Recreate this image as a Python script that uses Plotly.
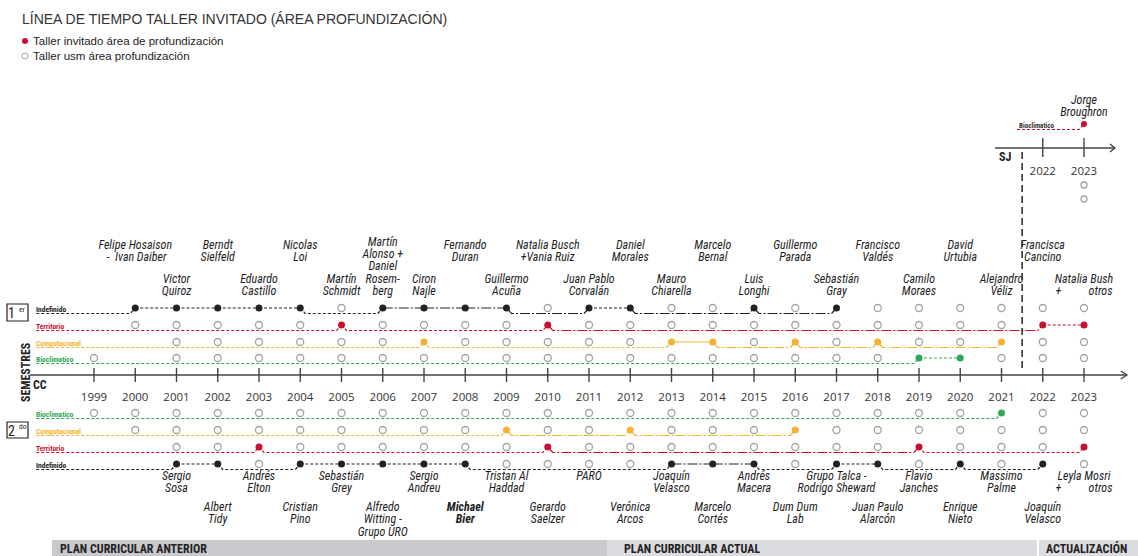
import plotly.graph_objects as go

# ---------------- DATA ----------------
YEARS = [1999, 2000, 2001, 2002, 2003, 2004, 2005, 2006, 2007, 2008, 2009, 2010,
         2011, 2012, 2013, 2014, 2015, 2016, 2017, 2018, 2019, 2020, 2021, 2022, 2023]
YEAR_LABELS = [str(y) for y in YEARS]

# 1st semester: filled dots (invited workshop) per area
UP_INDEF = [2000, 2001, 2002, 2003, 2004, 2006, 2007, 2008, 2009, 2011, 2012, 2015, 2017]
UP_TERR = [2005, 2010, 2022, 2023]
UP_COMP = [2007, 2013, 2014, 2016, 2018, 2021]
UP_BIO = [2019, 2020]
# 2nd semester
LO_BIO = [2021]
LO_COMP = [2009, 2012, 2016]
LO_TERR = [2003, 2010, 2019, 2023]
LO_INDEF = [2001, 2002, 2004, 2005, 2006, 2007, 2008, 2013, 2014, 2015, 2017, 2018, 2020, 2022]

# years where a workshop slot (circle) exists
UP_INDEF_SLOTS = YEARS[1:]
UP_TERR_SLOTS = YEARS[1:]
UP_COMP_SLOTS = YEARS[2:]
UP_BIO_SLOTS = [1999] + YEARS[2:]
LO_BIO_SLOTS = YEARS[:]
LO_COMP_SLOTS = YEARS[1:]
LO_TERR_SLOTS = YEARS[2:]
LO_INDEF_SLOTS = YEARS[2:]

UP_NAME_YEARS = YEARS[1:]
UP_NAMES = ["Felipe Hosaison<br> -  Ivan Daiber", "Victor<br>Quiroz", "Berndt<br>Sielfeld",
            "Eduardo<br>Castillo", "Nicolas<br>Loi", "Martín<br>Schmidt",
            "Martín<br>Alonso +<br>Daniel<br>Rosem-<br>berg", "Ciron<br>Najle",
            "Fernando<br>Duran", "Guillermo<br>Acuña", "Natalia Busch<br>+Vania Ruiz",
            "Juan Pablo<br>Corvalán", "Daniel<br>Morales", "Mauro<br>Chiarella",
            "Marcelo<br>Bernal", "Luis<br>Longhi", "Guillermo<br>Parada",
            "Sebastián<br>Gray", "Francisco<br>Valdés", "Camilo<br>Moraes",
            "David<br>Urtubia", "Alejandro<br>Véliz", "Francisca<br>Cancino",
            "Natalia Bush<br>+          otros"]

LO_NAME_YEARS = YEARS[2:]
LO_NAMES = ["Sergio<br>Sosa", "Albert<br>Tidy", "Andrés<br>Elton", "Cristian<br>Pino",
            "Sebastián<br>Grey", "Alfredo<br>Witting -<br>Grupo URO", "Sergio<br>Andreu",
            "<b>Michael</b><br><b>Bier</b>", "Tristan Al<br>Haddad", "Gerardo<br>Saelzer", "PARO",
            "Verónica<br>Arcos", "Joaquín<br>Velasco", "Marcelo<br>Cortés",
            "Andrés<br>Macera", "Dum Dum<br>Lab", "Grupo Talca -<br>Rodrigo Sheward",
            "Juan Paulo<br>Alarcón", "Flavio<br>Janches", "Enrique<br>Nieto",
            "Massimo<br>Palme", "Joaquín<br>Velasco", "Leyla Mosri<br>+          otros"]

SJ_YEARS = [2022, 2023]
SJ_EVENT = [2023]
SJ_SLOTS = [2023, 2023]
SJ_NAME = "Jorge<br>Broughron"

AREAS = ["Indefinido", "Territorio", "Computacional", "Bioclimatico"]
PLANS = ["PLAN CURRICULAR ANTERIOR", "PLAN CURRICULAR ACTUAL", "ACTUALIZACIÓN"]
SEMESTER_MARKS = [("1", "er"), ("2", "do")]

# ---------------- STYLE / LAYOUT ----------------
W, H = 1138, 556
PX = 41.25                      # pixels per year
X0 = YEARS[0] - 94 / PX         # left edge of the figure in years
X1 = X0 + W / PX
RAMP = 0.12
LH = 12.3                       # line height of the name labels
FONT = "Liberation Sans Narrow, Arial Narrow, Roboto Condensed, Liberation Sans, sans-serif"
WFONT = "Liberation Sans, Arial, sans-serif"
COL = {"Indefinido": "#222222", "Territorio": "#c8102e",
       "Computacional": "#f5b232", "Bioclimatico": "#2fa757"}
GRAY = "#a3a3a3"
DASH = {"d": "3px,2px", "dd": "10px,2px,2px,2px", "s": "solid"}

UP_Y = {"Indefinido": 308, "Territorio": 325, "Computacional": 342, "Bioclimatico": 358}
LO_Y = {"Bioclimatico": 413, "Computacional": 430, "Territorio": 447, "Indefinido": 464}
AXIS_Y = 375

ROWS = [
    ("Indefinido", UP_Y, UP_INDEF, UP_INDEF_SLOTS,
     ["d", "d", "d", "d", "d", "d", "dd", "dd", "dd", "dd", "d", "dd", "dd"]),
    ("Territorio", UP_Y, UP_TERR, UP_TERR_SLOTS, ["d", "d", "dd", "d"]),
    ("Computacional", UP_Y, UP_COMP, UP_COMP_SLOTS, ["d", "d", "s", "dd", "dd", "dd"]),
    ("Bioclimatico", UP_Y, UP_BIO, UP_BIO_SLOTS, ["d", "d"]),
    ("Bioclimatico", LO_Y, LO_BIO, LO_BIO_SLOTS, ["d"]),
    ("Computacional", LO_Y, LO_COMP, LO_COMP_SLOTS, ["d", "dd", "dd"]),
    ("Territorio", LO_Y, LO_TERR, LO_TERR_SLOTS, ["d", "d", "dd", "d"]),
    ("Indefinido", LO_Y, LO_INDEF, LO_INDEF_SLOTS,
     ["d"] * 8 + ["dd", "dd", "d", "d", "d", "d"]),
]


def px(x):
    return x / W


def row_segments(events, yc, x_start, styles):
    base = yc + 5.5
    segs, prev = [], None
    for e, st in zip(events, styles):
        if prev is None:
            xs, ys = [x_start, e - RAMP, e], [base, base, yc]
        elif e - prev == 1:
            xs, ys = [prev, e], [yc, yc]
        else:
            xs, ys = [prev, prev + RAMP, e - RAMP, e], [yc, base, base, yc]
        segs.append((xs, ys, st))
        prev = e
    return segs


def name_lines(years, names, ref_y, anchor):
    """Split multi-line names into single lines with a fixed line height."""
    xs, ys, ts = [], [], []
    for yr, nm in zip(years, names):
        parts = nm.split("<br>")
        n = len(parts)
        for i, p in enumerate(parts):
            y = ref_y + i * LH if anchor == "top" else ref_y - (n - 1 - i) * LH
            xs.append(yr)
            ys.append(y)
            ts.append(p)
    return xs, ys, ts


fig = go.Figure()
LINE_START = YEARS[0] - 1.4

# lines + markers for each row
for area, ymap, events, slots, styles in ROWS:
    yc = ymap[area]
    for xs, ys, st in row_segments(events, yc, LINE_START, styles):
        fig.add_trace(go.Scatter(x=xs, y=ys, mode="lines",
                                 line=dict(color=COL[area], width=1.2, dash=DASH[st]),
                                 hoverinfo="skip", showlegend=False))
    empty = [s for s in slots if s not in events]
    fig.add_trace(go.Scatter(x=empty, y=[yc] * len(empty), mode="markers",
                             marker=dict(symbol="circle-open", size=7, color=GRAY,
                                         line=dict(width=1.3, color=GRAY)),
                             hoverinfo="skip", showlegend=False))
    fig.add_trace(go.Scatter(x=events, y=[yc] * len(events), mode="markers",
                             marker=dict(symbol="circle", size=7, color=COL[area]),
                             hoverinfo="skip", showlegend=False))
    fig.add_annotation(x=LINE_START - 0.05, y=yc + 2, text="<b>%s</b>" % area, showarrow=False,
                       xanchor="left", yanchor="bottom", yshift=-6,
                       font=dict(size=7.5, color=COL[area], family=FONT))

# main time axis
tick_x, tick_y = [], []
for yr in YEARS:
    tick_x += [yr, yr, None]
    tick_y += [AXIS_Y - 7, AXIS_Y + 7, None]
ax_end = YEARS[-1] + 1.04
fig.add_trace(go.Scatter(x=[X0 + 30 / PX, ax_end], y=[AXIS_Y, AXIS_Y], mode="lines",
                         line=dict(color="#444", width=1.6), hoverinfo="skip", showlegend=False))
fig.add_trace(go.Scatter(x=[ax_end - 0.15, ax_end, ax_end - 0.15], y=[AXIS_Y - 4, AXIS_Y, AXIS_Y + 4],
                         mode="lines", line=dict(color="#444", width=1.4),
                         hoverinfo="skip", showlegend=False))
fig.add_trace(go.Scatter(x=tick_x, y=tick_y, mode="lines", line=dict(color="#444", width=1.4),
                         hoverinfo="skip", showlegend=False))
fig.add_trace(go.Scatter(x=YEARS, y=[398] * len(YEARS), mode="text", text=YEAR_LABELS,
                         textfont=dict(size=11.5, color="#333", family="Open Sans, sans-serif"),
                         hoverinfo="skip", showlegend=False))

NAMEFONT = dict(size=12, color="#1e1e1e", family=FONT, style="italic")
# names above (1st semester): even years on the high tier, odd years (and long names) low
is_high = [y % 2 == 0 and n.count("<br>") < 3 for y, n in zip(UP_NAME_YEARS, UP_NAMES)]
hx, hy, ht = name_lines([y for y, h in zip(UP_NAME_YEARS, is_high) if h],
                        [n for n, h in zip(UP_NAMES, is_high) if h], 258, "bottom")
lx, ly, lt = name_lines([y for y, h in zip(UP_NAME_YEARS, is_high) if not h],
                        [n for n, h in zip(UP_NAMES, is_high) if not h], 292, "bottom")
# names below (2nd semester): odd years first tier, even years second tier
ax_, ay_, at_ = name_lines([y for y in LO_NAME_YEARS if y % 2 == 1],
                           [n for y, n in zip(LO_NAME_YEARS, LO_NAMES) if y % 2 == 1], 477, "top")
bx_, by_, bt_ = name_lines([y for y in LO_NAME_YEARS if y % 2 == 0],
                           [n for y, n in zip(LO_NAME_YEARS, LO_NAMES) if y % 2 == 0], 508, "top")
sx, sy, st_ = name_lines(SJ_EVENT, [SJ_NAME], 113, "bottom")
for xs, ys, ts in [(hx, hy, ht), (lx, ly, lt), (ax_, ay_, at_), (bx_, by_, bt_), (sx, sy, st_)]:
    fig.add_trace(go.Scatter(x=xs, y=ys, mode="text", text=ts, textposition="middle center",
                             textfont=NAMEFONT, hoverinfo="skip", showlegend=False))

# SJ axis
SJ_Y = 148
sj_end = SJ_YEARS[-1] + 0.75
sj_tx, sj_ty = [], []
for yr in SJ_YEARS:
    sj_tx += [yr, yr, None]
    sj_ty += [SJ_Y - 10, SJ_Y + 9, None]
fig.add_trace(go.Scatter(x=[X0 + 995 / PX, sj_end], y=[SJ_Y, SJ_Y], mode="lines",
                         line=dict(color="#444", width=1.6), hoverinfo="skip", showlegend=False))
fig.add_trace(go.Scatter(x=[sj_end - 0.12, sj_end, sj_end - 0.12], y=[SJ_Y - 4, SJ_Y, SJ_Y + 4],
                         mode="lines", line=dict(color="#444", width=1.4),
                         hoverinfo="skip", showlegend=False))
fig.add_trace(go.Scatter(x=sj_tx, y=sj_ty, mode="lines", line=dict(color="#444", width=1.4),
                         hoverinfo="skip", showlegend=False))
fig.add_trace(go.Scatter(x=SJ_YEARS, y=[172] * len(SJ_YEARS), mode="text",
                         text=[str(y) for y in SJ_YEARS],
                         textfont=dict(size=11.5, color="#333", family="Open Sans, sans-serif"),
                         hoverinfo="skip", showlegend=False))
fig.add_trace(go.Scatter(x=SJ_SLOTS, y=[185, 199], mode="markers",
                         marker=dict(symbol="circle-open", size=6, color=GRAY,
                                     line=dict(width=1.3, color=GRAY)),
                         hoverinfo="skip", showlegend=False))
SJ_ROW_Y = 124
SJ_START = X0 + 1017 / PX
for xs, ys, st in row_segments(SJ_EVENT, SJ_ROW_Y, SJ_START, ["d"]):
    fig.add_trace(go.Scatter(x=xs, y=ys, mode="lines",
                             line=dict(color=COL["Territorio"], width=1.2, dash=DASH[st]),
                             hoverinfo="skip", showlegend=False))
fig.add_trace(go.Scatter(x=SJ_EVENT, y=[SJ_ROW_Y], mode="markers",
                         marker=dict(symbol="circle", size=6, color=COL["Territorio"]),
                         hoverinfo="skip", showlegend=False))
fig.add_annotation(x=SJ_START, y=SJ_ROW_Y + 2, text="<b>Bioclimatico</b>", showarrow=False,
                   xanchor="left", yanchor="bottom", yshift=-6,
                   font=dict(size=7, color="#333", family=FONT))
fig.add_annotation(xref="paper", x=px(997), y=157, text="<b>SJ</b>", showarrow=False,
                   xanchor="left", font=dict(size=12, color="#222", family=FONT))

# separator dashed vertical line
fig.add_shape(type="line", x0=2021.5, x1=2021.5, y0=152, y1=AXIS_Y - 3,
              line=dict(color="#333", width=1.6, dash="7px,4px"))

# legend / title
fig.add_annotation(xref="paper", x=px(20), y=19, text="LÍNEA DE TIEMPO TALLER INVITADO (ÁREA PROFUNDIZACIÓN)",
                   showarrow=False, xanchor="left",
                   font=dict(size=14, color="#333", family=WFONT))
fig.add_shape(type="circle", xref="paper", x0=px(22), x1=px(28), y0=38, y1=44,
              fillcolor=COL["Territorio"], line=dict(width=0))
fig.add_shape(type="circle", xref="paper", x0=px(22), x1=px(28), y0=53, y1=59,
              fillcolor="white", line=dict(width=1, color=GRAY))
fig.add_annotation(xref="paper", x=px(31), y=41, text="Taller invitado área de profundización",
                   showarrow=False, xanchor="left", font=dict(size=11.5, color="#222", family=WFONT))
fig.add_annotation(xref="paper", x=px(31), y=56, text="Taller usm área profundización",
                   showarrow=False, xanchor="left", font=dict(size=11.5, color="#222", family=WFONT))

# semester boxes
for (y0, y1), (num, suf) in zip([(304, 321), (422, 438)], SEMESTER_MARKS):
    fig.add_shape(type="rect", xref="paper", x0=px(7), x1=px(28), y0=y0, y1=y1,
                  line=dict(color="#222", width=1.2), fillcolor="white")
    fig.add_annotation(xref="paper", x=px(16.5), y=(y0 + y1) / 2 + 0.5, text=num, showarrow=False,
                       xanchor="right", font=dict(size=14, color="#222", family=FONT))
    fig.add_annotation(xref="paper", x=px(16.5), y=(y0 + y1) / 2 - 3.5, text=suf, showarrow=False,
                       xanchor="left", font=dict(size=7.5, color="#222", family=FONT))
fig.add_annotation(xref="paper", x=px(17), y=372, text="<b>SEMESTRES</b>", showarrow=False,
                   textangle=-90, font=dict(size=12, color="#222", family=FONT))
fig.add_annotation(xref="paper", x=px(31), y=385, text="<b>CC</b>", showarrow=False,
                   xanchor="left", font=dict(size=12, color="#222", family=FONT))

# plan bars
bars = [(52, 607, "#c9c9cd"), (607, 1138, "#dcdce0")]
for x0, x1, c in bars:
    fig.add_shape(type="rect", xref="paper", x0=px(x0), x1=px(x1), y0=540, y1=556,
                  fillcolor=c, line=dict(width=0), layer="below")
fig.add_shape(type="line", xref="paper", x0=px(1038), x1=px(1038), y0=540, y1=556,
              line=dict(color="white", width=2))
for label, xp in zip(PLANS, [58, 622, 1044]):
    fig.add_annotation(xref="paper", x=px(xp), y=548.5, text="<b>%s</b>" % label, showarrow=False,
                       xanchor="left", font=dict(size=12, color="#222", family=FONT))

fig.update_layout(
    width=W, height=H, margin=dict(l=0, r=0, t=0, b=0),
    paper_bgcolor="white", plot_bgcolor="white",
    xaxis=dict(range=[X0, X1], visible=False, fixedrange=True),
    yaxis=dict(range=[H, 0], visible=False, fixedrange=True),
    showlegend=False, font=dict(family=FONT),
)
fig.write_html("out.html", config={"displayModeBar": False},
               post_script="document.body.style.margin='0px';document.body.style.overflow='hidden';")
